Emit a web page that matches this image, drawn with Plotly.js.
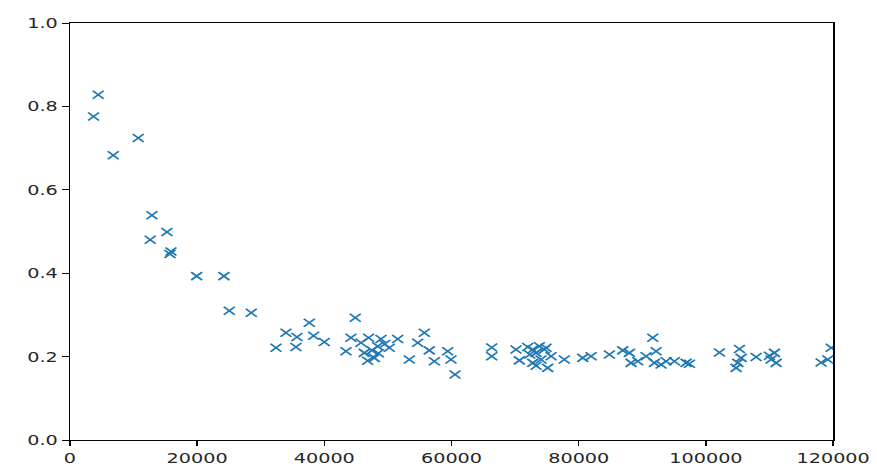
<!DOCTYPE html>
<html>
<head>
<meta charset="utf-8">
<script src="https://cdn.plot.ly/plotly-3.0.1.min.js"></script>
<style>
  html, body { margin: 0; padding: 0; background: #fff; overflow: hidden; }
  /* the reference is a 640-wide figure stretched to 877 px, so draw at 640 and stretch */
  #chart { width: 640px; height: 471px; transform: scaleX(1.3703); transform-origin: 0 0; }
</style>
</head>
<body>
<div id="chart"></div>
<script>
var xVals = [3720, 4450, 6820, 10750, 12630, 12900, 15260, 15730, 15890, 19930,
    24220, 25060, 28520, 32400, 33970, 35540, 35700, 37640, 38320, 40000,
    43410, 44190, 44870, 45770, 46290, 46810, 46970, 47500, 47860, 48390,
    48500, 48910, 49500, 50220, 51540, 53370, 54690, 55730, 56510, 57300,
    59400, 59920, 60550, 66320, 66320, 70140, 70670, 71980, 72300, 72770,
    72770, 73290, 73300, 73810, 74070, 74600, 74860, 75120, 75650, 77740,
    80630, 81940, 84820, 86920, 87970, 88230, 89280, 90590, 91640, 91900,
    92160, 92950, 93740, 95040, 96880, 97400, 102120, 104740, 105010, 105270,
    105530, 107890, 109980, 110250, 110770, 111040, 118110, 119160, 119690];

var yVals = [0.776, 0.828, 0.683, 0.724, 0.480, 0.539, 0.499, 0.446, 0.452, 0.393,
    0.393, 0.310, 0.305, 0.221, 0.257, 0.223, 0.247, 0.281, 0.250, 0.235,
    0.213, 0.245, 0.293, 0.233, 0.209, 0.190, 0.245, 0.215, 0.197, 0.225,
    0.208, 0.242, 0.230, 0.221, 0.242, 0.193, 0.233, 0.257, 0.215, 0.189,
    0.213, 0.193, 0.157, 0.222, 0.201, 0.217, 0.191, 0.223, 0.205, 0.217,
    0.185, 0.209, 0.178, 0.225, 0.193, 0.217, 0.221, 0.173, 0.201, 0.193,
    0.197, 0.201, 0.205, 0.215, 0.209, 0.185, 0.189, 0.201, 0.245, 0.185,
    0.213, 0.181, 0.189, 0.189, 0.185, 0.183, 0.210, 0.173, 0.185, 0.218,
    0.197, 0.199, 0.202, 0.193, 0.209, 0.185, 0.186, 0.193, 0.221];

var xTicks = [0, 20000, 40000, 60000, 80000, 100000, 120000];
var yTicks = [0.0, 0.2, 0.4, 0.6, 0.8, 1.0];

var trace = {
    x: xVals,
    y: yVals,
    type: 'scatter',
    mode: 'markers',
    marker: {
        symbol: 'x-thin',
        size: 8,
        color: '#1f77b4',
        line: { color: '#1f77b4', width: 1.5 }
    },
    hoverinfo: 'none'
};

var layout = {
    width: 640,
    height: 471,
    margin: { l: 50.6, r: 32.3, t: 23, b: 30.5, pad: 0 },
    paper_bgcolor: '#fff',
    plot_bgcolor: '#fff',
    showlegend: false,
    font: { family: 'DejaVu Sans', size: 14, color: '#262626' },
    xaxis: {
        range: [0, 120000],
        tickvals: xTicks,
        ticktext: xTicks.map(String),
        ticks: 'outside',
        ticklen: 5,
        tickwidth: 1,
        tickcolor: '#000',
        showline: true,
        mirror: true,
        linecolor: '#000',
        linewidth: 1,
        showgrid: false,
        zeroline: false
    },
    yaxis: {
        range: [0, 1],
        tickvals: yTicks,
        ticktext: yTicks.map(function (v) { return v.toFixed(1); }),
        ticks: 'outside',
        ticklen: 5,
        tickwidth: 1,
        tickcolor: '#000',
        showline: true,
        mirror: true,
        linecolor: '#000',
        linewidth: 1,
        showgrid: false,
        zeroline: false
    }
};

Plotly.newPlot('chart', [trace], layout, { displayModeBar: false, staticPlot: true });
</script>
</body>
</html>
